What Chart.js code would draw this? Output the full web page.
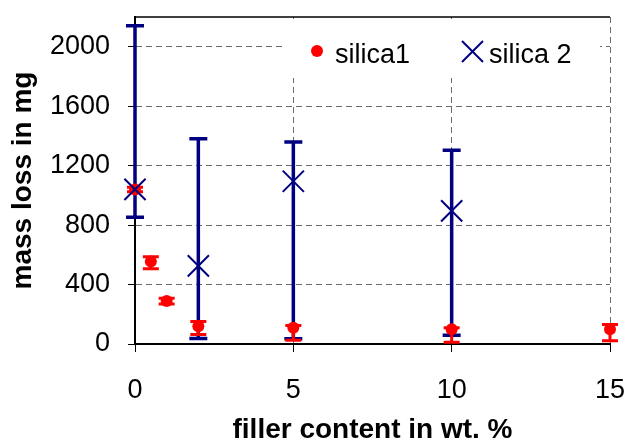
<!DOCTYPE html>
<html>
<head>
<meta charset="utf-8">
<script src="https://cdn.jsdelivr.net/npm/chart.js@4/dist/chart.umd.min.js"></script>
<style>
  html, body { margin: 0; padding: 0; background: #fff; }
  #wrap { width: 627px; height: 447px; }
</style>
</head>
<body>
<div id="wrap"><canvas id="c" width="627" height="447"></canvas></div>
<script>
// Filler content (wt. %) and mass loss (mg) with lower/upper error limits
const silica1Filler = [0, 0.5, 1, 2, 5, 10, 15];
const silica1Loss   = [1040, 555, 290, 120, 110, 100, 100];
const silica1Low    = [1025, 506, 269, 64, 26, 12, 22];
const silica1High   = [1055, 587, 308, 152, 125, 110, 132];

const silica2Filler = [0, 2, 5, 10];
const silica2Loss   = [1040, 526, 1095, 896];
const silica2Low    = [852, 37, 36, 59];
const silica2High   = [2141, 1381, 1359, 1304];

const xTicks = [0, 5, 10, 15];
const yTicks = [0, 400, 800, 1200, 1600, 2000];

const RED = '#ff0000';
const NAVY = '#000080';
const GRID = '#6b6b6b';
const FONT = '"Liberation Sans", Arial, sans-serif';

function points(xs, ys) {
  return xs.map((x, i) => ({ x: x, y: ys[i] }));
}

// Vertical error bars with caps, drawn behind the markers
const errorBars = {
  id: 'errorBars',
  beforeDatasetsDraw(chart) {
    const ctx = chart.ctx;
    const xs = chart.scales.x, ys = chart.scales.y;
    const sets = [
      { x: silica2Filler, lo: silica2Low, hi: silica2High, color: NAVY, width: 3.5, cap: 9 },
      { x: silica1Filler, lo: silica1Low, hi: silica1High, color: RED, width: 3, cap: 8 }
    ];
    ctx.save();
    sets.forEach(s => {
      ctx.strokeStyle = s.color;
      ctx.lineWidth = s.width;
      ctx.lineCap = 'butt';
      s.x.forEach((xv, i) => {
        const px = xs.getPixelForValue(xv);
        const pLo = ys.getPixelForValue(s.lo[i]);
        const pHi = ys.getPixelForValue(s.hi[i]);
        ctx.beginPath();
        ctx.moveTo(px, pLo); ctx.lineTo(px, pHi);
        ctx.moveTo(px - s.cap, pLo); ctx.lineTo(px + s.cap, pLo);
        ctx.moveTo(px - s.cap, pHi); ctx.lineTo(px + s.cap, pHi);
        ctx.stroke();
      });
    });
    ctx.restore();
  }
};

// Top frame line and the in-plot legend box
const frameAndLegend = {
  id: 'frameAndLegend',
  afterDraw(chart) {
    const ctx = chart.ctx;
    const a = chart.chartArea;
    ctx.save();
    ctx.strokeStyle = '#000';
    ctx.lineWidth = 1.5;
    ctx.beginPath();
    ctx.moveTo(a.left, a.top);
    ctx.lineTo(a.right, a.top);
    ctx.stroke();

    // legend background
    ctx.fillStyle = '#fff';
    ctx.fillRect(282, 19, 318, 59);

    const ds = chart.data.datasets;
    ctx.font = '27px ' + FONT;
    ctx.textBaseline = 'alphabetic';
    ctx.textAlign = 'left';

    // silica1 entry
    ctx.fillStyle = RED;
    ctx.beginPath();
    ctx.arc(317, 51, 6, 0, Math.PI * 2);
    ctx.fill();
    ctx.fillStyle = '#000';
    ctx.fillText(ds[0].label, 335, 63);

    // silica 2 entry
    ctx.strokeStyle = NAVY;
    ctx.lineWidth = 2;
    ctx.beginPath();
    ctx.moveTo(462, 41); ctx.lineTo(483, 62);
    ctx.moveTo(462, 62); ctx.lineTo(483, 41);
    ctx.stroke();
    ctx.fillText(ds[1].label, 489, 63);
    ctx.restore();
  }
};

function noPad(s) {
  s.paddingLeft = 0; s.paddingRight = 0; s.paddingTop = 0; s.paddingBottom = 0;
}

new Chart(document.getElementById('c'), {
  type: 'scatter',
  data: {
    datasets: [
      {
        label: 'silica1',
        data: points(silica1Filler, silica1Loss),
        pointStyle: 'circle',
        pointRadius: 6,
        pointHoverRadius: 6,
        backgroundColor: RED,
        borderColor: RED,
        borderWidth: 0,
        clip: false,
        order: 1
      },
      {
        label: 'silica 2',
        data: points(silica2Filler, silica2Loss),
        pointStyle: 'crossRot',
        pointRadius: 15,
        pointHoverRadius: 15,
        backgroundColor: NAVY,
        borderColor: NAVY,
        borderWidth: 2,
        clip: false,
        order: 0
      }
    ]
  },
  options: {
    responsive: false,
    animation: false,
    events: [],
    layout: { padding: { left: 0, right: 17, top: 11, bottom: 0 } },
    plugins: {
      legend: { display: false },
      tooltip: { enabled: false }
    },
    scales: {
      x: {
        type: 'linear',
        min: 0,
        max: 15,
        afterBuildTicks: s => { s.ticks = xTicks.map(v => ({ value: v })); },
        afterFit: s => { s.height = 103; noPad(s); },
        grid: {
          color: GRID,
          lineWidth: 1,
          tickColor: '#000',
          tickLength: 8,
          tickWidth: 1,
          tickBorderDash: []
        },
        border: { display: true, color: '#000', width: 2, dash: [6, 4] },
        ticks: {
          color: '#000',
          padding: 22,
          maxRotation: 0,
          callback: v => String(v),
          font: { family: FONT, size: 27 }
        },
        title: {
          display: true,
          text: 'filler content in wt. %',
          color: '#000',
          padding: { top: 4, bottom: 0 },
          font: { family: FONT, size: 28, weight: 'bold' }
        }
      },
      y: {
        type: 'linear',
        min: 0,
        max: 2200,
        afterBuildTicks: s => { s.ticks = yTicks.map(v => ({ value: v })); },
        afterFit: s => { s.width = 135; noPad(s); },
        grid: {
          color: GRID,
          lineWidth: 1,
          tickColor: '#000',
          tickLength: 7,
          tickWidth: 1,
          tickBorderDash: []
        },
        border: { display: true, color: '#000', width: 2, dash: [6, 4] },
        ticks: {
          color: '#000',
          padding: 18,
          callback: v => String(v),
          font: { family: FONT, size: 27 }
        },
        title: {
          display: true,
          text: 'mass loss in mg',
          color: '#000',
          padding: { top: 6, bottom: 0 },
          font: { family: FONT, size: 28, weight: 'bold' }
        }
      }
    }
  },
  plugins: [errorBars, frameAndLegend]
});
</script>
</body>
</html>
